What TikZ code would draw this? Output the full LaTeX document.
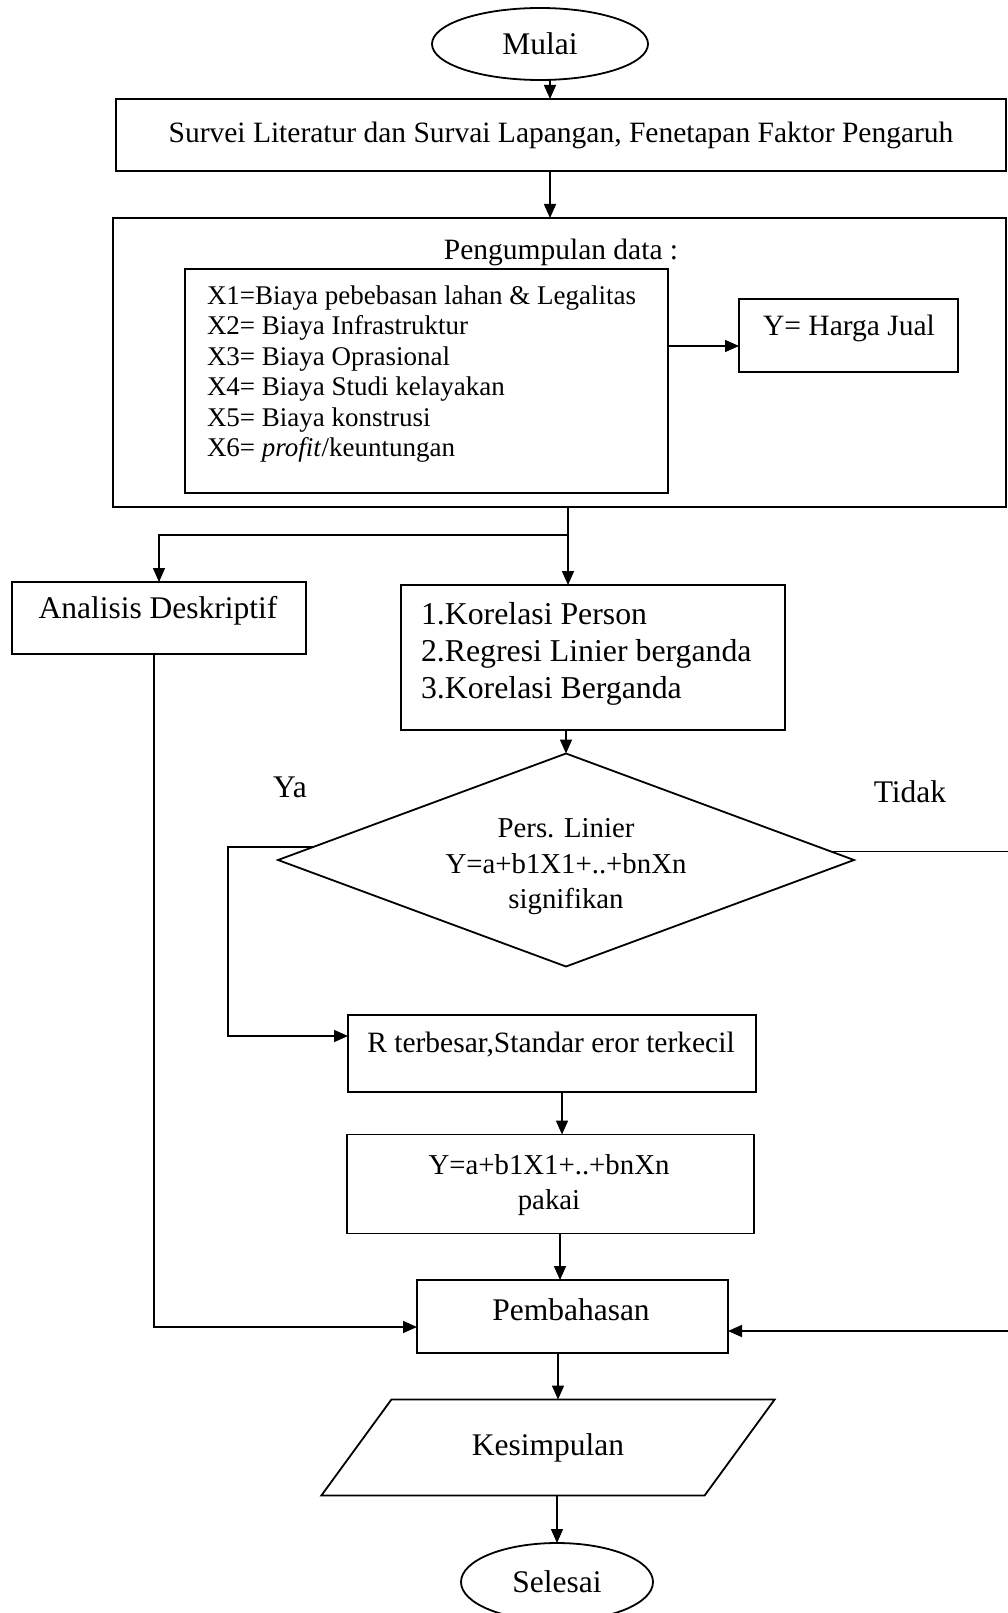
\documentclass[tikz,border=0pt]{standalone}
\usepackage{fontspec}
\setmainfont{Liberation Serif}
\usetikzlibrary{arrows.meta,shapes.geometric,calc}
\begin{document}
\begin{tikzpicture}[x=1pt,y=-1pt,
  every node/.style={inner sep=0pt, outer sep=0pt},
  box/.style={draw, rectangle, line width=1.8pt},
  ln/.style={line width=1.6pt},
  arr/.style={line width=1.6pt, -{Triangle[length=14pt,width=12pt]}},
  fx/.style={font=\fontsize{27}{30.4}\selectfont, align=left},
  fd/.style={font=\fontsize{28.8}{35.5}\selectfont, align=center},
  fn/.style={font=\fontsize{29.5}{36}\selectfont, align=center},
  fb/.style={font=\fontsize{31.5}{36.5}\selectfont, align=center},
  fk/.style={font=\fontsize{31.8}{36.8}\selectfont, align=left}
]
\useasboundingbox (0,0) rectangle (1008,1613);

% --- shapes ---
\node[box, ellipse, minimum width=216, minimum height=72, fb] (mulai) at (540,44) {Mulai};
\node[box, minimum width=890, minimum height=72, fn] (survei) at (561,135)
  {Survei Literatur dan Survai Lapangan, Fenetapan Faktor Pengaruh};

\node[box, minimum width=893, minimum height=289] (peng) at (559.5,362.5) {};
\node[fn] (tpeng) at (561,252) {Pengumpulan data :};
\node[box, minimum width=483, minimum height=224] (xbox) at (426.5,381) {};
\node[fx, anchor=west] (txbox) at (207,374)
  {X1=Biaya pebebasan lahan \& Legalitas\\
   X2= Biaya Infrastruktur\\
   X3= Biaya Oprasional\\
   X4= Biaya Studi kelayakan\\
   X5= Biaya konstrusi\\
   X6= \textit{profit}/keuntungan};
\node[box, minimum width=219, minimum height=73] (ybox) at (848.5,335.5) {};
\node[fn] (tybox) at (849,328) {Y= Harga Jual};

\node[box, minimum width=294, minimum height=72] (anal) at (159,618) {};
\node[fb] (tanal) at (158,611) {Analisis Deskriptif};

\node[box, minimum width=384, minimum height=145] (kor) at (593,657.5) {};
\node[fk, anchor=west] (tkor) at (421,654)
  {1.Korelasi Person\\2.Regresi Linier berganda\\3.Korelasi Berganda};

\node[draw, diamond, line width=1.8pt, minimum width=576, minimum height=213] (dia) at (566,860) {};
\node[fd] (tdia) at (566,867) {Pers. Linier\\Y=a+b1X1+..+bnXn\\signifikan};
\node[fb] (ya) at (290,787) {Ya};
\node[fb] (tidak) at (910,792) {Tidak};

\node[box, minimum width=408, minimum height=77] (rbox) at (552,1053.5) {};
\node[fn] (trbox) at (551,1045) {R terbesar,Standar eror terkecil};

\node[box, minimum width=407, minimum height=99] (pakai) at (550.5,1184) {};
\node[fd] (tpakai) at (549,1185) {Y=a+b1X1+..+bnXn\\pakai};

\node[box, minimum width=311, minimum height=73] (pemb) at (572.5,1316.5) {};
\node[fb] (tpemb) at (571,1310) {Pembahasan};

\node[draw, trapezium, trapezium left angle=40, trapezium right angle=140,
      trapezium stretches=true, minimum width=454, minimum height=96,
      line width=1.8pt, fb] (kes) at (548,1447.5) {Kesimpulan};

\node[box, ellipse, minimum width=192, minimum height=78, fb] (sel) at (557,1582) {Selesai};

% --- reference coordinates for connector routes ---
\coordinate (c550) at (550,0);
\coordinate (br) at (568,535);
\coordinate (brl) at (159,535);
\coordinate (yarr) at (0,346);
\coordinate (yabot) at (228,1036);
\coordinate (tidr) at (1016,1331);
\coordinate (la) at (154,1327);
\coordinate (c562) at (562,0);
\coordinate (c560) at (560,0);
\coordinate (c558) at (558,0);

% --- connectors ---
\draw[arr] (mulai.south -| c550) -- (survei.north -| c550);
\draw[arr] (survei.south -| c550) -- (peng.north -| c550);
\draw[arr] (xbox.east |- yarr) -- (ybox.west |- yarr);
\draw[ln] (peng.south -| br) -- (br);
\draw[arr] (br) -- (brl) -- (anal.north -| brl);
\draw[arr] (br) -- (kor.north -| br);
\draw[arr] (kor.south -| dia.north) -- (dia.north);
\draw[arr] ($(dia.west)!0.12!(dia.north)$) -| (yabot) -- (rbox.west |- yabot);
\draw[arr] ($(dia.east)!0.08!(dia.north)$) -| (tidr) -- (pemb.east |- tidr);
\draw[arr] (rbox.south -| c562) -- (pakai.north -| c562);
\draw[arr] (pakai.south -| c560) -- (pemb.north -| c560);
\draw[arr] (anal.south -| la) -- (la) -- (pemb.west |- la);
\draw[arr] (pemb.south -| c558) -- (kes.north -| c558);
\draw[arr] (kes.south -| sel.north) -- (sel.north);
\end{tikzpicture}
\end{document}
